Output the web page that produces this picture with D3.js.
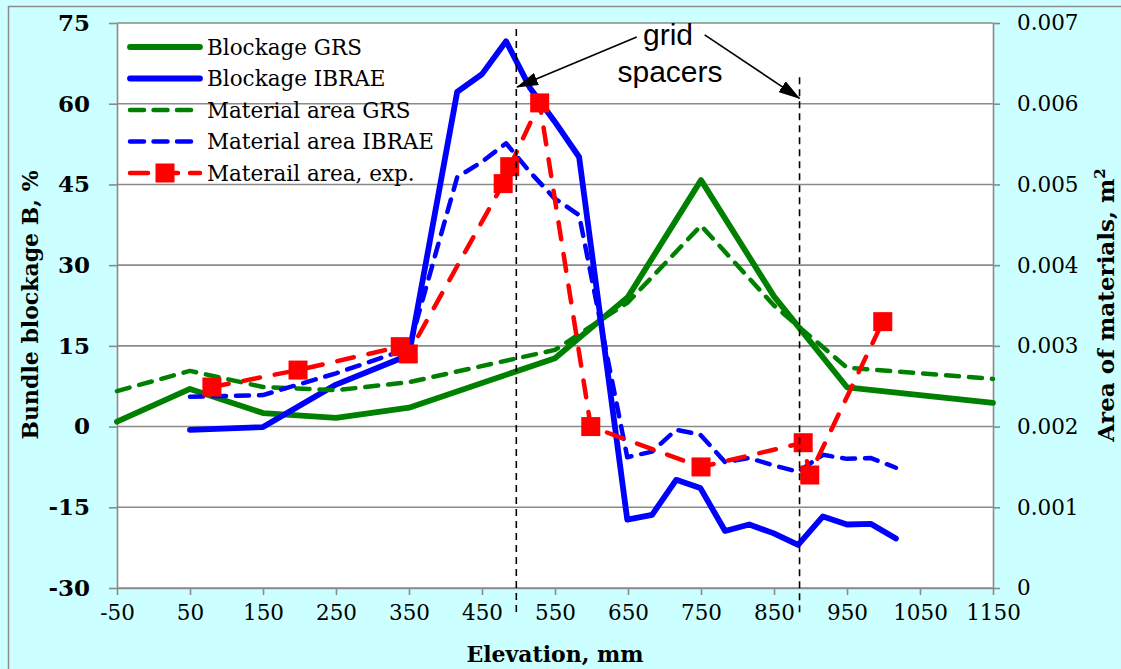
<!DOCTYPE html>
<html>
<head>
<meta charset="utf-8">
<script src="https://cdn.jsdelivr.net/npm/d3@7"></script>
<style>
  html, body { margin: 0; padding: 0; background: #ccffff; }
  svg { display: block; }
</style>
</head>
<body>
<div id="chart"></div>
<script>
// Elevation (mm) of the calculated points
const grsX = [-50, 50, 150, 250, 350, 550, 650, 750, 850, 950, 1150];
const ibraeX = [50, 150, 250, 350, 416, 450, 483, 516, 549, 583, 649, 683, 716, 749, 783, 816, 849, 883, 917, 950, 983, 1017];
const expX = [80, 198, 338, 349, 479, 488, 529, 599, 750, 890, 899, 999];

// Bundle blockage B, %
const blockageGRS = [0.9, 7.0, 2.5, 1.6, 3.5, 12.7, 24.1, 45.8, 24.2, 7.3, 4.4];
const blockageIBRAE = [-0.6, -0.1, 7.8, 13.3, 62.2, 65.5, 71.6, 62.9, 56.8, 50.1, -17.3, -16.4, -9.9, -11.4, -19.4, -18.2, -19.8, -22.0, -16.7, -18.2, -18.1, -20.8];

// Area of materials, m2
const areaGRS = [0.00244, 0.00269, 0.00249, 0.00245, 0.00255, 0.00295, 0.00354, 0.00449, 0.00350, 0.00273, 0.00259];
const areaIBRAE = [0.00237, 0.00239, 0.00266, 0.00297, 0.00509, 0.00528, 0.00551, 0.00515, 0.00483, 0.00462, 0.00162, 0.00169, 0.00196, 0.00190, 0.00156, 0.00161, 0.00152, 0.00144, 0.00165, 0.00160, 0.00161, 0.00149];
const areaExp = [0.00249, 0.00270, 0.00299, 0.00290, 0.00501, 0.00522, 0.00601, 0.00200, 0.00150, 0.00180, 0.00140, 0.00330];

// Axis ticks
const xTicks = [-50, 50, 150, 250, 350, 450, 550, 650, 750, 850, 950, 1050, 1150];
const yLeftTicks = [-30, -15, 0, 15, 30, 45, 60, 75];
const yRightTicks = [0, 0.001, 0.002, 0.003, 0.004, 0.005, 0.006, 0.007];

// Grid spacer elevations, mm
const spacers = [497, 885];

const W = 1121, H = 669;
const M = { left: 117, right: 993, top: 23, bottom: 588 };

const svg = d3.select("#chart").append("svg")
  .attr("width", W).attr("height", H);

// Chart frame
svg.append("rect").attr("x", 8.5).attr("y", 6.5).attr("width", W + 20).attr("height", H + 20)
  .attr("fill", "#ccffff").attr("stroke", "#8c8c8c").attr("stroke-width", 1.5);

const x = d3.scaleLinear().domain([-50, 1150]).range([M.left, M.right]);
const yL = d3.scaleLinear().domain([-30, 75]).range([M.bottom, M.top]);
const yR = d3.scaleLinear().domain([0, 0.007]).range([M.bottom, M.top]);

// Plot area
svg.append("rect").attr("x", M.left).attr("y", M.top)
  .attr("width", M.right - M.left).attr("height", M.bottom - M.top)
  .attr("fill", "#ffffff");

const gridColor = "#8a8a8a";

// Horizontal gridlines
svg.append("g").selectAll("line").data(yLeftTicks).join("line")
  .attr("x1", M.left).attr("x2", M.right)
  .attr("y1", d => yL(d)).attr("y2", d => yL(d))
  .attr("stroke", gridColor).attr("stroke-width", 1.6);

// Axes (negative values with a plain hyphen)
const serif = "'DejaVu Serif', 'Liberation Serif', serif";
const intFmt = d => String(d);

const xAxis = svg.append("g").attr("transform", `translate(0,${M.bottom})`)
  .call(d3.axisBottom(x).tickValues(xTicks).tickSize(7).tickPadding(10).tickSizeOuter(0).tickFormat(intFmt));
const yAxisL = svg.append("g").attr("transform", `translate(${M.left},0)`)
  .call(d3.axisLeft(yL).tickValues(yLeftTicks).tickSize(8).tickPadding(19).tickSizeOuter(0).tickFormat(intFmt));
const yAxisR = svg.append("g").attr("transform", `translate(${M.right},0)`)
  .call(d3.axisRight(yR).tickValues(yRightTicks).tickSize(7).tickPadding(17).tickSizeOuter(0)
    .tickFormat(d => d === 0 ? "0" : d3.format(".3f")(d)));

[xAxis, yAxisL, yAxisR].forEach(g => {
  g.select(".domain").attr("stroke", gridColor).attr("stroke-width", 1.6);
  g.selectAll(".tick line").attr("stroke", gridColor).attr("stroke-width", 1.6);
  g.selectAll(".tick text").attr("fill", "#000").style("font-family", serif);
});
xAxis.selectAll(".tick text").style("font-size", "21.5px");
yAxisL.selectAll(".tick text").style("font-size", "23px").style("font-weight", "bold");
yAxisR.selectAll(".tick text").style("font-size", "21.5px");

// Axis titles
svg.append("text").attr("x", 555).attr("y", 662).attr("text-anchor", "middle")
  .style("font-family", serif).style("font-size", "22px").style("font-weight", "bold")
  .text("Elevation, mm");

svg.append("text").attr("transform", "translate(38,305) rotate(-90)").attr("text-anchor", "middle")
  .style("font-family", serif).style("font-size", "22px").style("font-weight", "bold")
  .text("Bundle blockage B, %");

const rt = svg.append("text").attr("transform", "translate(1114,305) rotate(-90)").attr("text-anchor", "middle")
  .style("font-family", serif).style("font-size", "23px").style("font-weight", "bold");
rt.append("tspan").text("Area of materials, m");
rt.append("tspan").attr("baseline-shift", "super").style("font-size", "15px").text("2");

// Series
const lineL = d3.line().x(d => x(d[0])).y(d => yL(d[1]));
const lineR = d3.line().x(d => x(d[0])).y(d => yR(d[1]));
const zip = (a, b) => a.map((v, i) => [v, b[i]]);

const plot = svg.append("g");

const series = [
  { name: "Blockage GRS", pts: zip(grsX, blockageGRS), line: lineL, color: "#008000", width: 5.8, dash: null },
  { name: "Blockage IBRAE", pts: zip(ibraeX, blockageIBRAE), line: lineL, color: "#0000ff", width: 5.8, dash: null },
  { name: "Material area GRS", pts: zip(grsX, areaGRS), line: lineR, color: "#008000", width: 4.5, dash: "13,10" },
  { name: "Material area IBRAE", pts: zip(ibraeX, areaIBRAE), line: lineR, color: "#0000ff", width: 4.5, dash: "13,10" },
  { name: "Materail area, exp.", pts: zip(expX, areaExp), line: lineR, color: "#ff0000", width: 4.5, dash: "17,15", marker: true }
];

series.forEach(s => {
  plot.append("path").attr("d", s.line(s.pts))
    .attr("fill", "none").attr("stroke", s.color).attr("stroke-width", s.width)
    .attr("stroke-linejoin", "round").attr("stroke-linecap", "round")
    .attr("stroke-dasharray", s.dash);
  if (s.marker) {
    const sz = 19;
    plot.append("g").selectAll("rect").data(s.pts).join("rect")
      .attr("x", d => x(d[0]) - sz / 2).attr("y", d => yR(d[1]) - sz / 2)
      .attr("width", sz).attr("height", sz).attr("fill", s.color);
  }
});

// Grid spacer positions
const spacerTop = [73.9, 64.9];
svg.append("g").selectAll("line").data(spacers).join("line")
  .attr("x1", d => x(d)).attr("x2", d => x(d))
  .attr("y1", (d, i) => yL(spacerTop[i])).attr("y2", yL(-34.5))
  .attr("stroke", "#000").attr("stroke-width", 1.6).attr("stroke-dasharray", "7,5");

// "grid spacers" note with arrows
const defs = svg.append("defs");
defs.append("marker").attr("id", "arrowhead").attr("viewBox", "0 0 22 13")
  .attr("refX", 21).attr("refY", 6.5).attr("markerWidth", 22).attr("markerHeight", 13)
  .attr("markerUnits", "userSpaceOnUse").attr("orient", "auto")
  .append("path").attr("d", "M0,0 L22,6.5 L0,13 z").attr("fill", "#000");

const arrows = [
  { from: [662, 72.4], to: [498, 63.1] },
  { from: [755, 72.8], to: [885, 61.0] }
];
arrows.forEach(a => {
  svg.append("line")
    .attr("x1", x(a.from[0])).attr("y1", yL(a.from[1]))
    .attr("x2", x(a.to[0])).attr("y2", yL(a.to[1]))
    .attr("stroke", "#000").attr("stroke-width", 1.6)
    .attr("marker-end", "url(#arrowhead)");
});

const note = svg.append("text").attr("text-anchor", "middle")
  .style("font-family", "'Liberation Sans', Arial, sans-serif").style("font-size", "30px").attr("fill", "#000");
note.append("tspan").attr("x", 668).attr("y", 45).text("grid");
note.append("tspan").attr("x", 670).attr("y", 82).text("spacers");

// Legend
const legend = svg.append("g");
const rowY = [47, 78.5, 110, 141.5, 173];
series.forEach((s, i) => {
  const g = legend.append("g").attr("transform", `translate(0,${rowY[i]})`);
  g.append("line").attr("x1", 130).attr("x2", 200).attr("y1", 0).attr("y2", 0)
    .attr("stroke", s.color).attr("stroke-width", s.width)
    .attr("stroke-linecap", "round").attr("stroke-dasharray", s.dash ? (s.marker ? "18,12" : "14,9.5") : null);
  if (s.marker) {
    g.append("rect").attr("x", 165 - 9.5).attr("y", -9.5).attr("width", 19).attr("height", 19).attr("fill", s.color);
  }
  g.append("text").attr("x", 207).attr("y", 0).attr("dy", "0.36em")
    .style("font-family", serif).style("font-size", "21.5px").attr("fill", "#000")
    .text(s.name);
});
</script>
</body>
</html>
